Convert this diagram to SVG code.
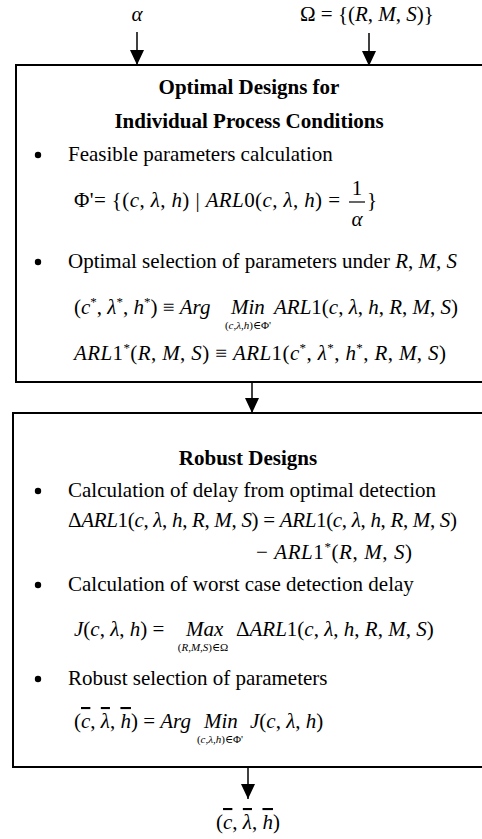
<svg xmlns="http://www.w3.org/2000/svg" width="482" height="839" viewBox="0 0 482 839" font-family="'Liberation Serif', 'DejaVu Serif', serif">
<style>
text{font-family:'Liberation Serif','DejaVu Serif',serif;font-size:21px;fill:#000}
.b{font-weight:bold}
.i{font-style:italic}
.s{font-size:11px}
.sup{font-size:13px}
.box{fill:#fff;stroke:#000;stroke-width:2}
.con{stroke:#000;stroke-width:1.5;fill:none}
.ol{text-decoration:overline}
</style>
<defs>
<marker id="ah" markerUnits="userSpaceOnUse" markerWidth="16" markerHeight="14" refX="15" refY="7" orient="auto" viewBox="0 0 16 14">
<path d="M0,0 L15,7 L0,14 Z" fill="#000"/>
</marker>
</defs>
<g id="inputs">
<text x="137" y="21" text-anchor="middle" class="i">α</text>
<text x="300" y="21">Ω = {(<tspan class="i">R</tspan>, <tspan class="i">M</tspan>, <tspan class="i">S</tspan>)}</text>
</g>
<g id="box1">
<rect class="box" x="16" y="65" width="480" height="317"/>
<text x="249" y="94" text-anchor="middle" class="b">Optimal Designs for</text>
<text x="249" y="128" text-anchor="middle" class="b">Individual Process Conditions</text>
<circle cx="38" cy="155" r="3.2"/>
<text x="68" y="161">Feasible parameters calculation</text>
<text x="74" y="207" textLength="266" lengthAdjust="spacing">Φ'= {(<tspan class="i">c</tspan>, <tspan class="i">λ</tspan>, <tspan class="i">h</tspan>) | <tspan class="i">ARL</tspan>0(<tspan class="i">c</tspan>, <tspan class="i">λ</tspan>, <tspan class="i">h</tspan>) =</text>
<text x="357" y="195" text-anchor="middle">1</text>
<line x1="349" y1="202" x2="365" y2="202" stroke="#000" stroke-width="1.2"/>
<text x="357" y="226" text-anchor="middle" class="i">α</text>
<text x="367" y="207">}</text>
<circle cx="38" cy="262" r="3.2"/>
<text x="68" y="268">Optimal selection of parameters under <tspan class="i">R</tspan>, <tspan class="i">M</tspan>, <tspan class="i">S</tspan></text>
<text x="74" y="314">(<tspan class="i">c</tspan><tspan class="sup" dy="-8">*</tspan><tspan dy="8">,</tspan> <tspan class="i">λ</tspan><tspan class="sup" dy="-8">*</tspan><tspan dy="8">,</tspan> <tspan class="i">h</tspan><tspan class="sup" dy="-8">*</tspan><tspan dy="8">) ≡ </tspan><tspan class="i">Arg</tspan></text>
<text x="231" y="314" class="i">Min</text>
<text x="248" y="329" text-anchor="middle" class="s">(<tspan class="i">c</tspan>,<tspan class="i">λ</tspan>,<tspan class="i">h</tspan>)∈Φ'</text>
<text x="274" y="314"><tspan class="i">ARL</tspan>1(<tspan class="i">c</tspan>, <tspan class="i">λ</tspan>, <tspan class="i">h</tspan>, <tspan class="i">R</tspan>, <tspan class="i">M</tspan>, <tspan class="i">S</tspan>)</text>
<text x="74" y="360" textLength="372" lengthAdjust="spacing"><tspan class="i">ARL</tspan>1<tspan class="sup" dy="-8">*</tspan><tspan dy="8">(</tspan><tspan class="i">R</tspan>, <tspan class="i">M</tspan>, <tspan class="i">S</tspan>) ≡ <tspan class="i">ARL</tspan>1(<tspan class="i">c</tspan><tspan class="sup" dy="-8">*</tspan><tspan dy="8">,</tspan> <tspan class="i">λ</tspan><tspan class="sup" dy="-8">*</tspan><tspan dy="8">,</tspan> <tspan class="i">h</tspan><tspan class="sup" dy="-8">*</tspan><tspan dy="8">,</tspan> <tspan class="i">R</tspan>, <tspan class="i">M</tspan>, <tspan class="i">S</tspan>)</text>
</g>
<g id="box2">
<rect class="box" x="13" y="413" width="480" height="354"/>
<text x="248" y="465" text-anchor="middle" class="b">Robust Designs</text>
<circle cx="38" cy="491" r="3.2"/>
<text x="68" y="497">Calculation of delay from optimal detection</text>
<text x="68" y="527" textLength="389" lengthAdjust="spacing">Δ<tspan class="i">ARL</tspan>1(<tspan class="i">c</tspan>, <tspan class="i">λ</tspan>, <tspan class="i">h</tspan>, <tspan class="i">R</tspan>, <tspan class="i">M</tspan>, <tspan class="i">S</tspan>) = <tspan class="i">ARL</tspan>1(<tspan class="i">c</tspan>, <tspan class="i">λ</tspan>, <tspan class="i">h</tspan>, <tspan class="i">R</tspan>, <tspan class="i">M</tspan>, <tspan class="i">S</tspan>)</text>
<text x="256" y="559" textLength="156" lengthAdjust="spacing">− <tspan class="i">ARL</tspan>1<tspan class="sup" dy="-8">*</tspan><tspan dy="8">(</tspan><tspan class="i">R</tspan>, <tspan class="i">M</tspan>, <tspan class="i">S</tspan>)</text>
<circle cx="38" cy="585" r="3.2"/>
<text x="68" y="591">Calculation of worst case detection delay</text>
<text x="74" y="636"><tspan class="i">J</tspan>(<tspan class="i">c</tspan>, <tspan class="i">λ</tspan>, <tspan class="i">h</tspan>) =</text>
<text x="186" y="636" class="i">Max</text>
<text x="203" y="651" text-anchor="middle" class="s">(<tspan class="i">R</tspan>,<tspan class="i">M</tspan>,<tspan class="i">S</tspan>)∈Ω</text>
<text x="236" y="636">Δ<tspan class="i">ARL</tspan>1(<tspan class="i">c</tspan>, <tspan class="i">λ</tspan>, <tspan class="i">h</tspan>, <tspan class="i">R</tspan>, <tspan class="i">M</tspan>, <tspan class="i">S</tspan>)</text>
<circle cx="38" cy="679" r="3.2"/>
<text x="68" y="685">Robust selection of parameters</text>
<text x="74" y="728">(<tspan class="i ol">c</tspan>, <tspan class="i ol">λ</tspan>, <tspan class="i ol">h</tspan>) = <tspan class="i">Arg</tspan></text>
<text x="204" y="728" class="i">Min</text>
<text x="220" y="743" text-anchor="middle" class="s">(<tspan class="i">c</tspan>,<tspan class="i">λ</tspan>,<tspan class="i">h</tspan>)∈Φ'</text>
<text x="250" y="728"><tspan class="i">J</tspan>(<tspan class="i">c</tspan>, <tspan class="i">λ</tspan>, <tspan class="i">h</tspan>)</text>
</g>
<g id="output">
<text x="248" y="829" text-anchor="middle">(<tspan class="i ol">c</tspan>, <tspan class="i ol">λ</tspan>, <tspan class="i ol">h</tspan>)</text>
</g>
<g id="connectors">
<line class="con" x1="137" y1="32" x2="137" y2="65" marker-end="url(#ah)"/>
<line class="con" x1="369" y1="33" x2="369" y2="66" marker-end="url(#ah)"/>
<line class="con" x1="252" y1="382" x2="252" y2="413" marker-end="url(#ah)"/>
<line class="con" x1="248" y1="767" x2="248" y2="799" marker-end="url(#ah)"/>
</g>
</svg>
